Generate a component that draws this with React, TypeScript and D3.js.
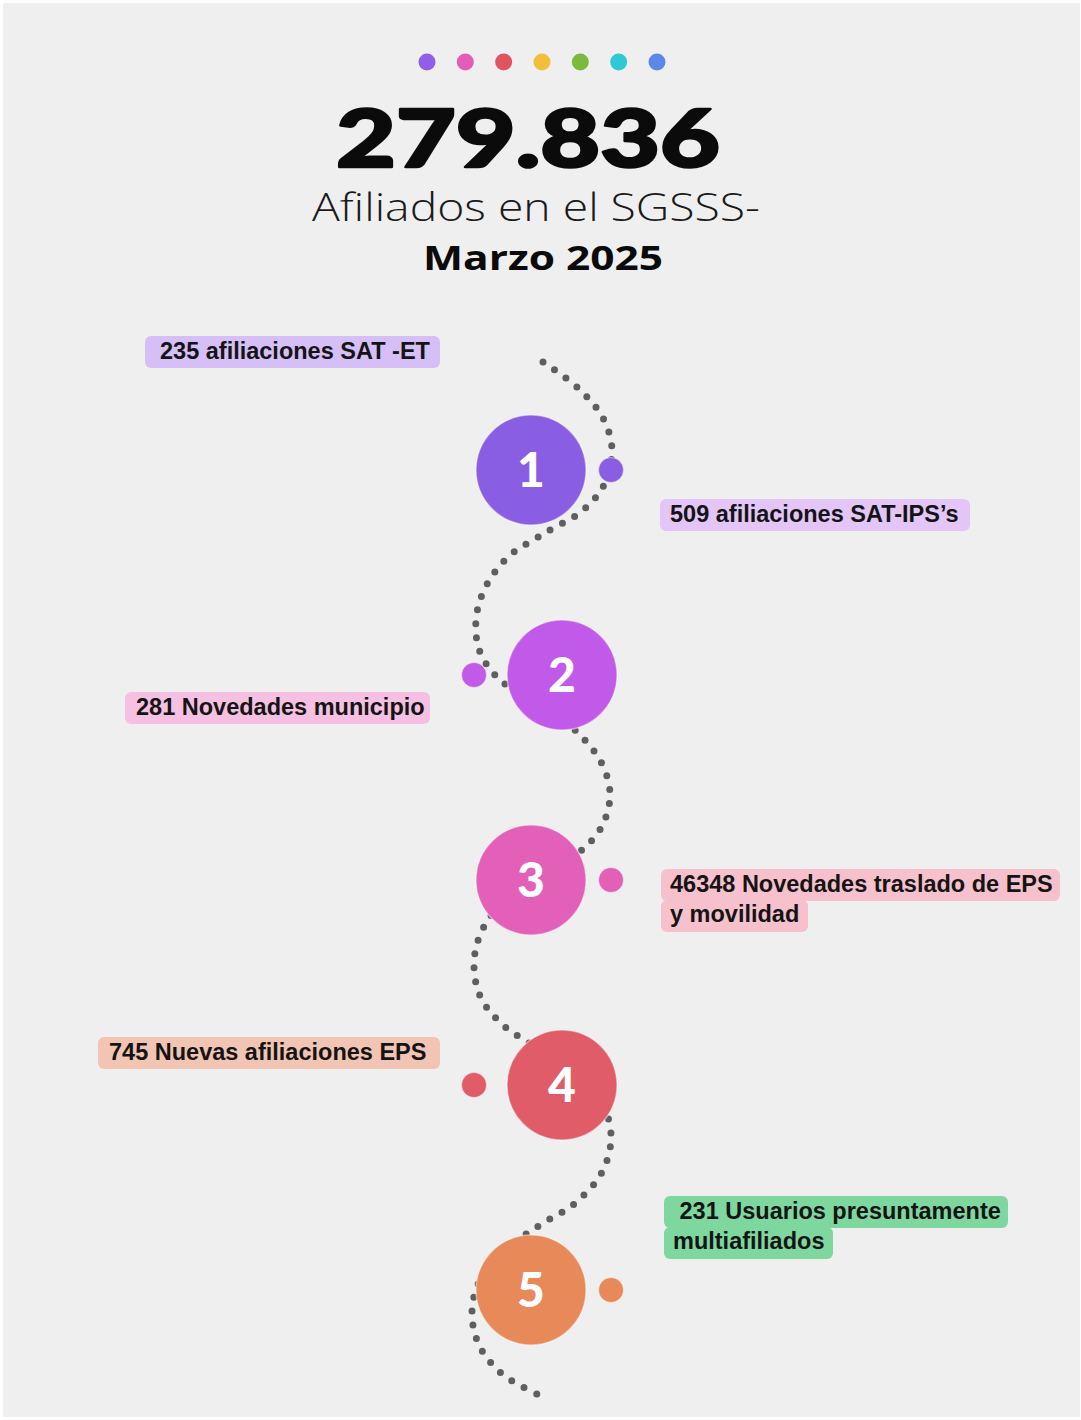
import React from 'react';
import * as d3 from 'd3';

// ---------- data ----------
const headlineDotColors = ['#8f5fe8', '#e35db8', '#e0545f', '#f2be3c', '#7cba3c', '#2dcad6', '#5b88ea'];
const totalAffiliates = '279.836';
const subtitle = 'Afiliados en el SGSSS-';
const period = 'Marzo 2025';
const steps = [1, 2, 3, 4, 5];
const stepColors = ['#8a5ee3', '#c25ae9', '#e360b8', '#e15c69', '#e8895a'];
const labelLines = [
  ['235 afiliaciones SAT -ET'],
  ['509 afiliaciones SAT-IPS\u2019s'],
  ['281 Novedades municipio'],
  ['46348 Novedades traslado de EPS', 'y movilidad'],
  ['745 Nuevas afiliaciones EPS'],
  [' 231 Usuarios presuntamente', 'multiafiliados'],
];
const labelColors = ['#d6bef7', '#e3c6f7', '#f5c0e1', '#f6c1cc', '#f2c4b3', '#7ed79f'];

// ---------- layout (not data) ----------
const W = 1081;
const H = 1420;
const labelBoxes = [
  { x: 145, y: 336, widths: [295], pad: 15 },
  { x: 660, y: 499, widths: [310], pad: 10 },
  { x: 125, y: 692, widths: [305], pad: 11 },
  { x: 661, y: 869, widths: [399, 147], pad: 9 },
  { x: 98, y: 1037, widths: [342], pad: 11 },
  { x: 664, y: 1196, widths: [344, 169], pad: 9 },
];
const wavePoints: [number, number][] = [
  [543, 362], [578, 388], [603, 418], [612, 450], [604, 485], [582, 511], [545, 533],
  [508, 557], [485, 588], [476, 620], [480, 652], [500, 680], [540, 705], [578, 733],
  [602, 764], [610, 795], [601, 828], [576, 855], [536, 880], [500, 905], [480, 935],
  [474, 966], [481, 998], [503, 1025], [540, 1050], [580, 1080], [605, 1110], [611, 1140],
  [601, 1174], [574, 1204], [540, 1225], [505, 1250], [480, 1280], [472, 1312], [479, 1345],
  [502, 1374], [537, 1394],
];

export default function App() {
  const dotX = d3.scalePoint<string>().domain(headlineDotColors.map((_, i) => String(i))).range([427, 657]);
  const stepY = d3.scaleLinear().domain([1, 5]).range([470, 1290]);
  const stepX = (s: number) => (s % 2 === 1 ? 531 : 562);
  const sideX = (s: number) => (s % 2 === 1 ? stepX(s) + 80 : stepX(s) - 88);
  const line = d3.line().curve(d3.curveCatmullRom.alpha(0.5));
  const wave = line(wavePoints) || '';
  const labelFont = '"Liberation Sans", Arial, sans-serif';

  return (
    <div style={{ position: 'absolute', left: 0, top: 0 }}>
      <svg width={W} height={H} viewBox={`0 0 ${W} ${H}`} style={{ display: 'block' }}>
        <rect x={0} y={0} width={W} height={H} fill="#ffffff" />
        <rect x={3} y={3} width={1077} height={1414} fill="#efefef" />

        {headlineDotColors.map((c, i) => (
          <circle key={i} cx={dotX(String(i))} cy={62} r={8.5} fill={c} />
        ))}

        <text x={528} y={167} textAnchor="middle" fontFamily="Lato, sans-serif" fontWeight={900}
          fontSize={80} fill="#0b0b0b" stroke="#0b0b0b" strokeWidth={2.5} strokeLinejoin="round"
          textLength={384} lengthAdjust="spacingAndGlyphs">
          {totalAffiliates}
        </text>
        <text x={536} y={221} textAnchor="middle" fontFamily='"Open Sans", sans-serif' fontWeight={300}
          fontSize={39} fill="#1a1a1a" textLength={448} lengthAdjust="spacingAndGlyphs">
          {subtitle}
        </text>
        <text x={543} y={270} textAnchor="middle" fontFamily='"Open Sans", sans-serif' fontWeight={700}
          fontSize={34} fill="#0b0b0b" textLength={240} lengthAdjust="spacingAndGlyphs">
          {period}
        </text>

        {/* labels */}
        {labelLines.map((lines, i) => {
          const b = labelBoxes[i];
          return (
            <g key={i}>
              {lines.map((_, j) => (
                <rect key={j} x={b.x} y={b.y + j * 31} width={b.widths[j]} height={32} rx={6} fill={labelColors[i]} />
              ))}
              {lines.map((t, j) => (
                <text key={j} x={b.x + b.pad} y={b.y + 23 + j * 30} fontFamily={labelFont} fontWeight={700}
                  fontSize={23.5} fill="#141414" style={{ whiteSpace: 'pre' }} xmlSpace="preserve">
                  {t}
                </text>
              ))}
            </g>
          );
        })}

        {/* dotted wave */}
        <path d={wave} fill="none" stroke="#5f5f5f" strokeWidth={7} strokeLinecap="round" strokeDasharray="0 14" />

        {/* steps */}
        {steps.map((s, i) => (
          <g key={s}>
            <circle cx={sideX(s)} cy={stepY(s)} r={12.5} fill={stepColors[i]} stroke="#ffffff" strokeOpacity={0.5} strokeWidth={1} />
            <circle cx={stepX(s)} cy={stepY(s)} r={55} fill={stepColors[i]} stroke="#ffffff" strokeOpacity={0.45} strokeWidth={1.5} />
            <text x={stepX(s)} y={stepY(s) + 17} textAnchor="middle" fontFamily="Lato, sans-serif" fontWeight={900}
              fontSize={48} fill="#ffffff">
              {s}
            </text>
          </g>
        ))}
      </svg>
    </div>
  );
}
